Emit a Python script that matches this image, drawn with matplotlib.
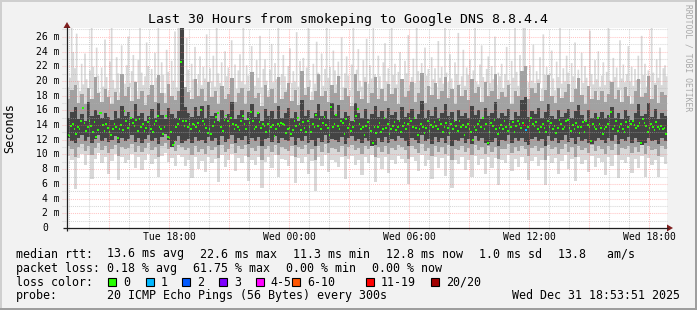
import numpy as np
import matplotlib
matplotlib.use("Agg")
import matplotlib.pyplot as plt
from matplotlib.patches import Rectangle, Polygon

plt.rcParams['font.family'] = ['DejaVu Sans Mono', 'DejaVu Sans']

W, H = 697, 310

# time window: Tue 12:53:51 -> Wed 18:53:51, hours counted from Tue 00:00
t_start = 12 + 53 / 60 + 51 / 3600
span_h = 30

# median rtt in ms, one value per 5 min step
median_ms = [
    12.6, 12.5, 13.9, 14.2, 13.5, 12.8, 13.7, 13.4, 14.6, 16.3, 14.3, 13.2, 13.8, 14.5, 13.9, 13.1, 14.4, 12.4, 13.3, 15.6,
    15.6, 14.0, 13.2, 14.1, 13.6, 13.0, 12.7, 13.5, 14.1, 13.8, 12.2, 13.4, 14.0, 13.3, 15.9, 14.6, 13.6, 14.2, 15.0, 14.3,
    13.9, 14.7, 13.2, 14.8, 13.7, 14.1, 13.2, 13.6, 14.4, 14.9, 13.5, 13.0, 14.2, 14.6, 15.2, 13.8, 13.4, 12.8, 13.7, 15.2,
    12.4, 12.2, 13.0, 11.3, 11.6, 13.8, 14.1, 14.8, 22.6, 14.6, 13.9, 14.5, 13.8, 14.2, 13.5, 14.1, 14.0, 13.7, 14.3, 13.2,
    16.1, 14.6, 14.1, 13.6, 12.9, 13.4, 12.8, 13.9, 14.4, 15.1, 15.6, 14.6, 13.7, 13.2, 14.7, 15.3, 14.5, 13.9, 15.0, 14.2,
    13.5, 14.0, 13.7, 13.3, 14.5, 15.2, 14.1, 13.4, 14.8, 14.3, 15.8, 14.6, 13.5, 13.8, 15.7, 14.4, 13.6, 14.2, 13.9, 13.1,
    14.2, 13.2, 13.7, 14.0, 12.5, 13.4, 14.1, 13.9, 14.3, 14.2, 14.0, 12.9, 13.5, 13.6, 12.8, 13.3, 14.6, 13.9, 15.0, 14.2,
    13.3, 14.4, 13.6, 13.1, 14.5, 13.8, 13.0, 14.2, 13.7, 15.4, 13.9, 14.8, 13.4, 14.3, 15.1, 14.0, 13.6, 12.7, 16.5, 13.8,
    14.1, 15.4, 13.9, 13.5, 14.6, 14.3, 12.8, 14.8, 13.6, 14.1, 13.2, 13.7, 14.6, 15.2, 16.2, 14.1, 13.5, 13.8, 12.6, 13.9,
    14.4, 13.6, 13.2, 11.5, 13.8, 12.9, 13.7, 14.3, 13.0, 13.5, 14.9, 13.6, 14.1, 12.8, 13.5, 13.9, 14.4, 13.3, 13.8, 14.6,
    13.1, 13.9, 14.3, 13.5, 14.2, 15.0, 14.6, 13.7, 15.0, 13.6, 12.7, 13.4, 14.1, 13.8, 12.9, 13.6, 14.5, 13.2, 14.0, 13.7,
    14.4, 13.9, 13.5, 14.7, 14.2, 13.1, 13.8, 14.3, 13.6, 12.9, 14.1, 13.4, 14.6, 13.9, 13.2, 14.5, 13.7, 14.0, 12.6, 13.8,
    14.2, 13.5, 13.0, 12.0, 13.7, 13.3, 14.1, 14.6, 13.8, 14.9, 13.4, 14.2, 11.6, 13.1, 14.3, 13.9, 14.7, 13.5, 12.8, 13.6,
    14.0, 13.4, 14.5, 13.7, 13.2, 14.1, 13.8, 14.4, 13.1, 13.9, 14.6, 14.2, 13.6, 14.3, 14.0, 13.3, 13.7, 14.6, 14.9, 14.2,
    13.9, 14.4, 13.5, 13.1, 13.8, 14.2, 13.6, 13.0, 14.5, 13.7, 14.3, 13.4, 13.9, 12.9, 13.6, 14.7, 14.1, 13.4, 13.8, 14.5,
    14.7, 13.6, 13.2, 14.0, 13.5, 14.3, 13.7, 12.9, 13.8, 14.4, 13.1, 14.6, 14.0, 13.7, 11.8, 14.2, 13.8, 13.5, 14.9, 14.1,
    13.6, 12.8, 13.4, 13.7, 14.1, 15.2, 15.8, 13.5, 13.9, 14.5, 13.2, 13.8, 14.1, 13.4, 13.0, 14.4, 13.7, 14.6, 14.2, 14.5,
    14.0, 13.6, 13.9, 14.3, 11.6, 14.8, 14.3, 13.9, 13.1, 13.6, 14.2, 13.7, 13.3, 14.4, 13.8, 13.5, 13.9, 13.4, 13.6, 12.8,
]

# samples that lost pings (index into median_ms, lost pings out of 20)
loss_idx = [274, 275]
loss_cnt = [12, 1]

# slowest ping per 5 min step (top of the light smoke)
outer_hi = [
    19.2, 20.5, 27.5, 24.0, 21.8, 26.5, 20.1, 18.7, 22.4, 19.6, 23.8, 20.3, 18.9, 21.5, 27.5, 22.0, 19.4, 24.6, 20.8, 18.6,
    21.9, 19.3, 25.7, 20.6, 18.8, 22.7, 27.5, 20.2, 19.0, 23.3, 21.1, 18.5, 24.9, 20.4, 19.7, 22.2, 26.1, 19.8, 21.4, 23.6,
    20.0, 18.7, 22.9, 27.5, 21.2, 19.5, 20.7, 25.3, 22.1, 19.1, 21.7, 18.9, 23.9, 20.5, 27.5, 19.9, 22.6, 20.9, 18.4, 24.3,
    21.3, 19.6, 22.8, 20.1, 26.8, 19.2, 27.5, 27.5, 27.5, 20.6, 19.0, 25.9, 21.6, 18.8, 22.4, 20.3, 24.7, 19.7, 21.0, 23.4,
    19.5, 22.0, 20.4, 26.4, 18.9, 21.8, 20.0, 23.5, 19.3, 27.5, 21.1, 19.8, 22.6, 18.6, 24.1, 20.7, 21.9, 19.1, 25.6, 20.2,
    22.3, 19.0, 21.5, 23.7, 20.0, 27.5, 19.6, 22.2, 20.8, 18.7, 24.8, 21.3, 19.4, 22.9, 20.5, 26.2, 19.2, 21.7, 23.0, 20.1,
    18.8, 21.6, 25.1, 19.9, 22.5, 20.3, 27.5, 19.5, 21.0, 23.6, 20.7, 18.9, 22.1, 24.5, 19.8, 21.4, 20.0, 26.7, 19.3, 22.8,
    20.6, 23.2, 19.1, 21.9, 27.5, 20.2, 18.6, 22.4, 19.7, 25.4, 21.2, 20.0, 23.8, 19.4, 21.7, 27.5, 20.5, 22.0, 19.0, 24.2,
    21.5, 19.6, 22.7, 20.3, 26.0, 19.2, 21.1, 23.4, 20.8, 18.8, 22.3, 27.5, 19.9, 21.6, 24.4, 20.1, 19.3, 22.9, 20.6, 25.8,
    19.7, 22.2, 20.4, 27.5, 21.0, 19.1, 23.5, 20.7, 18.9, 22.6, 25.2, 20.0, 21.8, 19.4, 27.5, 20.9, 22.4, 19.6, 21.3, 24.0,
    20.2, 18.7, 22.8, 21.1, 26.3, 19.5, 20.6, 23.1, 19.8, 27.5, 21.4, 20.1, 22.5, 19.2, 24.6, 20.8, 21.7, 19.0, 23.3, 20.3,
    21.8, 19.3, 25.5, 20.5, 22.0, 19.7, 27.5, 21.2, 19.9, 23.7, 20.4, 18.8, 22.6, 21.0, 26.6, 19.6, 20.7, 24.3, 19.4, 21.9,
    20.9, 23.0, 19.2, 21.5, 27.5, 20.0, 19.6, 22.3, 24.9, 20.6, 18.9, 21.7, 23.4, 19.8, 22.1, 20.3, 26.1, 19.5, 21.2, 20.7,
    22.4, 19.1, 21.0, 24.7, 20.2, 19.7, 22.8, 20.5, 27.5, 21.3, 19.4, 23.6, 20.8, 27.5, 27.5, 21.6, 19.9, 22.2, 20.1, 25.0,
    19.8, 21.4, 20.3, 23.3, 19.0, 26.4, 20.9, 22.0, 19.5, 21.1, 24.2, 20.4, 18.8, 22.7, 20.6, 27.5, 19.7, 21.8, 20.0, 23.5,
    21.2, 19.4, 22.5, 20.7, 25.3, 19.1, 21.6, 20.2, 23.9, 19.8, 22.1, 20.5, 18.9, 26.9, 21.0, 19.6, 22.9, 20.3, 24.1, 19.3,
    20.8, 22.6, 19.5, 21.3, 27.5, 20.1, 19.7, 23.2, 20.6, 21.9, 19.2, 25.6, 20.4, 22.3, 19.9, 21.0, 24.8, 20.0, 22.0, 19.4,
    21.7, 20.2, 23.5, 19.6, 26.2, 20.9, 22.4, 19.3, 21.5, 20.0, 27.5, 21.2, 19.8, 23.0, 20.5, 24.6, 19.5, 21.8, 22.2, 20.7,
]

# remaining smoke bands, one value per 10 min step (ms)
outer_lo = [
    9.8, 9.2, 5.3, 9.5, 10.1, 8.6, 9.9, 6.6, 9.4, 10.2, 8.8, 9.6, 7.4, 9.1, 10.0, 6.5, 9.7, 8.9, 9.3, 10.1,
    8.2, 9.6, 7.9, 9.2, 10.0, 8.7, 9.4, 6.9, 9.8, 10.2, 9.0, 9.5, 8.4, 9.9, 9.7, 8.5, 9.3, 6.8, 9.6, 8.0,
    9.1, 7.6, 9.7, 8.8, 9.4, 6.2, 9.9, 8.3, 9.2, 10.0, 7.7, 9.5, 8.9, 9.8, 6.4, 9.3, 8.6, 9.7, 5.4, 9.0,
    9.6, 8.1, 9.9, 7.0, 9.4, 9.2, 8.5, 9.8, 6.1, 9.5, 8.8, 9.7, 7.3, 9.1, 5.1, 9.6, 8.4, 9.9, 7.6, 9.3,
    9.0, 8.3, 9.7, 6.7, 9.4, 9.8, 8.6, 9.2, 7.2, 9.6, 8.9, 9.9, 6.3, 9.5, 8.0, 9.7, 7.5, 9.3, 8.7, 9.8,
    9.4, 8.8, 6.0, 9.6, 9.1, 7.8, 9.9, 8.5, 9.3, 6.6, 9.7, 8.2, 9.5, 7.1, 9.8, 5.4, 9.2, 8.7, 9.6, 7.9,
    9.3, 6.9, 9.8, 8.6, 9.4, 7.4, 9.7, 8.1, 9.5, 5.8, 9.2, 8.9, 9.9, 7.7, 9.4, 8.3, 9.6, 8.8, 6.5, 9.1,
    9.7, 8.4, 9.3, 5.9, 9.8, 8.8, 9.5, 7.3, 9.1, 9.9, 8.0, 9.4, 6.4, 9.7, 8.7, 9.2, 7.6, 9.8, 8.3, 9.5,
    9.0, 7.2, 9.6, 8.5, 9.9, 6.8, 9.3, 8.9, 9.7, 7.5, 9.4, 8.1, 9.8, 7.0, 9.5, 8.6, 9.2, 6.9, 9.6, 8.7,
]
mid_hi = [
    17.5, 18.8, 19.5, 17.0, 18.2, 16.8, 19.0, 17.6, 20.5, 18.4, 17.2, 18.9, 17.8, 16.9, 18.5, 17.4, 21.0, 18.0, 19.2, 17.3,
    19.8, 17.5, 18.6, 16.7, 18.1, 19.4, 17.2, 20.8, 18.3, 17.0, 19.6, 17.9, 17.4, 18.7, 27.5, 19.2, 18.5, 17.6, 20.2, 18.0,
    18.9, 17.3, 19.8, 17.8, 18.6, 16.9, 19.3, 17.5, 18.2, 20.4, 17.1, 18.4, 19.0, 16.8, 18.7, 21.2, 17.7, 18.3, 16.6, 19.5,
    17.8, 18.9, 17.0, 20.6, 17.6, 18.5, 19.7, 17.3, 18.8, 16.7, 21.4, 18.1, 19.2, 17.4, 18.6, 20.9, 17.9, 18.7, 17.2, 19.4,
    18.3, 20.7, 17.4, 19.1, 18.0, 16.6, 21.0, 18.6, 17.5, 19.8, 17.0, 18.4, 20.5, 17.6, 18.9, 17.3, 19.6, 18.2, 19.0, 16.9,
    20.3, 17.8, 18.7, 19.9, 17.2, 18.4, 21.1, 17.0, 19.3, 18.1, 19.7, 17.5, 18.6, 20.6, 17.7, 18.9, 16.8, 19.4, 18.0, 18.8,
    17.4, 20.2, 18.3, 19.2, 17.1, 19.8, 17.9, 18.6, 20.9, 17.5, 18.5, 17.8, 19.5, 16.9, 18.7, 18.0, 21.3, 22.0, 17.6, 19.0,
    18.4, 19.7, 17.3, 18.8, 20.8, 17.9, 17.0, 19.1, 17.7, 18.5, 19.6, 17.2, 18.9, 20.4, 18.1, 16.8, 19.3, 17.6, 18.6, 17.4,
    18.7, 17.1, 18.2, 19.8, 17.6, 18.8, 17.2, 19.2, 18.0, 16.9, 18.6, 20.3, 17.8, 18.4, 20.7, 17.5, 19.5, 17.0, 18.5, 18.1,
]
mid_lo = [
    11.2, 10.8, 9.6, 11.0, 11.4, 10.5, 11.1, 9.9, 10.9, 11.5, 10.6, 11.2, 10.2, 10.8, 11.3, 9.8, 11.0, 10.7, 10.9, 11.4,
    10.4, 11.1, 10.3, 10.9, 11.5, 10.6, 11.0, 9.7, 11.2, 11.6, 10.8, 11.1, 10.5, 11.3, 11.0, 10.6, 10.9, 9.9, 11.2, 10.4,
    10.7, 10.1, 11.2, 10.6, 11.0, 9.5, 11.3, 10.4, 10.8, 11.4, 10.2, 11.1, 10.7, 11.3, 9.7, 10.9, 10.5, 11.2, 9.3, 10.8,
    11.1, 10.4, 11.3, 9.9, 11.0, 10.8, 10.5, 11.2, 9.6, 11.0, 10.7, 11.3, 10.1, 10.8, 9.2, 11.1, 10.4, 11.4, 10.2, 10.9,
    10.8, 10.4, 11.2, 9.8, 11.0, 11.3, 10.6, 10.9, 10.0, 11.1, 10.7, 11.4, 9.6, 11.0, 10.3, 11.2, 10.1, 10.9, 10.6, 11.3,
    11.0, 10.6, 9.4, 11.1, 10.8, 10.2, 11.4, 10.5, 10.9, 9.8, 11.2, 10.4, 11.0, 10.0, 11.3, 9.3, 10.8, 10.6, 11.1, 10.3,
    10.9, 9.9, 11.3, 10.6, 11.0, 10.1, 11.2, 10.4, 11.0, 9.4, 10.8, 10.7, 11.4, 10.2, 11.0, 10.5, 11.1, 10.7, 9.8, 10.9,
    11.2, 10.5, 10.9, 9.3, 11.3, 10.7, 11.0, 10.1, 10.8, 11.4, 10.3, 11.0, 9.7, 11.2, 10.6, 10.9, 10.2, 11.3, 10.5, 11.1,
    10.8, 10.0, 11.1, 10.6, 11.4, 9.9, 10.9, 10.7, 11.2, 10.2, 11.0, 10.4, 11.3, 10.1, 11.1, 10.6, 10.8, 9.8, 11.1, 10.7,
]
inner_hi = [
    15.0, 15.8, 16.4, 14.8, 15.5, 14.6, 17.2, 15.2, 16.0, 15.4, 14.9, 15.7, 15.1, 14.7, 15.9, 15.0, 16.6, 15.3, 15.8, 14.9,
    16.8, 15.2, 15.6, 14.5, 15.3, 16.2, 14.9, 17.0, 15.4, 14.8, 16.3, 15.5, 15.0, 15.9, 27.5, 16.4, 15.7, 15.1, 16.5, 15.3,
    16.6, 14.9, 16.7, 15.2, 15.6, 14.6, 16.1, 15.0, 15.5, 17.1, 14.8, 15.4, 16.0, 14.7, 15.8, 16.9, 15.1, 15.6, 14.5, 16.2,
    15.2, 15.9, 14.8, 16.6, 15.0, 15.7, 16.3, 14.9, 15.8, 14.6, 17.4, 15.3, 16.1, 15.0, 15.6, 16.8, 15.2, 15.9, 14.8, 17.0,
    15.4, 16.7, 14.9, 15.8, 15.2, 14.5, 17.0, 15.6, 15.0, 16.2, 14.8, 15.5, 16.6, 15.1, 15.9, 14.9, 16.3, 15.4, 15.8, 14.7,
    16.5, 15.1, 15.7, 16.2, 14.8, 15.5, 17.3, 14.9, 16.0, 15.3, 16.4, 15.0, 15.6, 16.9, 15.2, 15.8, 14.6, 16.1, 15.3, 15.7,
    15.0, 16.6, 15.4, 16.0, 14.8, 16.3, 15.2, 15.7, 17.1, 15.0, 15.6, 15.2, 16.2, 14.7, 15.8, 15.3, 17.4, 17.8, 15.1, 15.9,
    15.5, 16.3, 14.9, 15.8, 16.9, 15.3, 14.8, 16.0, 15.1, 15.6, 16.2, 14.9, 15.9, 16.7, 15.4, 14.6, 16.1, 15.0, 15.7, 15.1,
    15.8, 14.9, 15.4, 16.4, 15.0, 15.7, 14.8, 16.1, 15.3, 14.7, 15.6, 16.9, 15.2, 15.5, 17.0, 15.1, 16.2, 14.8, 15.6, 15.3,
]
inner_lo = [
    12.3, 11.9, 11.5, 12.2, 12.6, 11.8, 12.4, 11.6, 12.1, 12.7, 11.9, 12.3, 11.7, 12.0, 12.5, 11.6, 12.2, 11.8, 12.1, 12.6,
    11.7, 12.3, 11.6, 12.1, 12.7, 11.9, 12.2, 11.4, 12.4, 12.8, 12.0, 11.0, 11.8, 12.5, 11.5, 11.9, 12.1, 11.5, 12.4, 11.8,
    12.0, 11.5, 12.4, 11.9, 12.2, 11.3, 12.5, 11.7, 12.1, 12.6, 11.6, 12.3, 12.0, 12.5, 11.4, 12.2, 11.8, 12.4, 11.2, 12.1,
    12.3, 11.7, 12.5, 11.5, 12.2, 12.0, 11.8, 12.4, 11.3, 12.2, 11.9, 12.5, 11.6, 12.0, 11.1, 12.3, 11.7, 12.6, 11.6, 12.1,
    12.0, 11.7, 12.4, 11.4, 12.2, 12.5, 11.8, 12.1, 11.5, 12.3, 11.9, 11.2, 11.3, 12.2, 11.7, 12.4, 11.6, 12.1, 11.9, 12.5,
    12.2, 11.8, 11.2, 12.3, 12.0, 11.6, 12.6, 11.8, 12.1, 11.4, 12.4, 11.7, 12.2, 11.5, 12.5, 11.1, 12.0, 11.8, 12.3, 11.6,
    12.1, 11.4, 12.5, 11.9, 12.2, 11.6, 11.3, 11.7, 12.2, 11.2, 12.0, 11.9, 12.6, 11.6, 12.2, 11.8, 12.3, 11.7, 11.3, 12.1,
    12.4, 11.8, 12.1, 11.2, 12.5, 11.9, 12.2, 11.6, 12.0, 12.6, 11.7, 12.2, 11.4, 12.4, 11.9, 12.1, 11.6, 11.4, 11.8, 12.3,
    12.0, 11.5, 12.3, 11.9, 12.6, 11.4, 12.1, 11.9, 12.4, 11.6, 12.2, 11.7, 11.3, 11.5, 12.3, 11.8, 12.0, 11.4, 12.3, 11.9,
]

# legend
loss_labels = ["0", "1", "2", "3", "4-5", "6-10", "11-19", "20/20"]
loss_colors = ["#26ff00", "#00b8ff", "#0059ff", "#7e00ff", "#ff00ff", "#ff5500", "#ff0000", "#a10000"]
loss_limits = [0, 1, 2, 3, 5, 10, 19, 20]

x_tick_hours = [18, 24, 30, 36, 42]
x_tick_labels = ["Tue 18:00", "Wed 00:00", "Wed 06:00", "Wed 12:00", "Wed 18:00"]
y_ticks = list(range(0, 27, 2))

step_med = 5 / 60
step_band = 10 / 60


def loss_color(n):
    for lim, c in zip(loss_limits, loss_colors):
        if n <= lim:
            return c
    return loss_colors[-1]


def step_fill(ax, t, step, lo, hi, col):
    xs = np.append(t, t[-1] + step)
    lo = np.append(lo, lo[-1])
    hi = np.append(hi, hi[-1])
    ax.fill_between(xs, lo, hi, step="post", color=col, lw=0, zorder=2)


fig = plt.figure(figsize=(W / 100, H / 100), dpi=100, facecolor="#f2f2f2")
ax = fig.add_axes([67 / W, 82 / H, 600 / W, 200 / H])
ax.set_facecolor("white")
ax.set_xlim(t_start, t_start + span_h)
ax.set_ylim(0, 27.2)
for s in ax.spines.values():
    s.set_visible(False)
ax.set_xticks([])
ax.set_yticks([])

# smoke
tm = t_start + np.arange(len(median_ms)) * step_med
tb = t_start + np.arange(len(outer_lo)) * step_band
step_fill(ax, tm, step_med, np.repeat(mid_hi, 2), outer_hi, "#d8d8d8")
step_fill(ax, tb, step_band, outer_lo, mid_lo, "#d8d8d8")
step_fill(ax, tb, step_band, mid_lo, mid_hi, "#a2a2a2")
step_fill(ax, tb, step_band, inner_lo, inner_hi, "#444444")

# median markers coloured by loss
lost = np.zeros(len(median_ms), dtype=int)
lost[loss_idx] = loss_cnt
med = np.array(median_ms)
ax.bar(tm, 0.27, bottom=med - 0.135, width=step_med, align="edge",
       color=[loss_color(n) for n in lost], lw=0, zorder=3)

# grid (drawn over the smoke, like rrdtool)
dash = (0, (1, 1))
for h in range(int(np.ceil(t_start)), int(t_start + span_h) + 1):
    major = h % 3 == 0
    ax.axvline(h, ymin=-0.012, ymax=1, color="#ff7070" if major else "#b0b0b0",
               alpha=0.45 if major else 0.55, lw=0.75, ls=dash, zorder=4, clip_on=False)
for v in range(1, 28):
    major = v % 2 == 0
    ax.axhline(v, xmin=-0.008, xmax=1, color="#ff7070" if major else "#b0b0b0",
               alpha=0.4 if major else 0.5, lw=0.75, ls=dash, zorder=4, clip_on=False)

# tick labels
for h, lab in zip(x_tick_hours, x_tick_labels):
    ax.text(h, -0.044, lab, transform=ax.get_xaxis_transform(), ha="center", va="center",
            fontsize=7, color="#000000")
for v in y_ticks:
    if v == 0:
        ax.text(-0.031, v, "0", transform=ax.get_yaxis_transform(), ha="right", va="center",
                fontsize=7)
    else:
        ax.text(-0.0125, v, f"{v} m", transform=ax.get_yaxis_transform(), ha="right",
                va="center", fontsize=7)

# overlay in pixel coordinates for frame, axes arrows and legend
ov = fig.add_axes([0, 0, 1, 1])
ov.set_xlim(0, W)
ov.set_ylim(H, 0)
ov.axis("off")
ov.patch.set_alpha(0)

ov.add_patch(Rectangle((0, 0), W, 2, color="#cfcfcf", lw=0))
ov.add_patch(Rectangle((0, 0), 2, H, color="#cfcfcf", lw=0))
ov.add_patch(Rectangle((0, H - 2), W, 2, color="#9e9e9e", lw=0))
ov.add_patch(Rectangle((W - 2, 0), 2, H, color="#9e9e9e", lw=0))

ov.plot([63, 668], [228, 228], color="#1f1f1f", lw=0.9, solid_capstyle="butt")
ov.plot([67, 67], [231, 27], color="#1f1f1f", lw=0.9, solid_capstyle="butt")
ov.add_patch(Polygon([(667, 224.5), (673, 228), (667, 231.5)], closed=True, color="#7f1f1f", lw=0))
ov.add_patch(Polygon([(63.5, 28), (67, 22), (70.5, 28)], closed=True, color="#7f1f1f", lw=0))

ov.text(348.5, 19, "Last 30 Hours from smokeping to Google DNS 8.8.4.4", ha="center",
        va="center", fontsize=9.5)
ov.text(10, 128, "Seconds", rotation=90, ha="center", va="center", fontsize=8.5)
ov.text(688, 58, "RRDTOOL / TOBI OETIKER", rotation=270, ha="center", va="center",
        fontsize=5.8, color="#a8a8a8")

fs = 8.4
line1 = [(16, "median rtt:"), (107, "13.6 ms avg"), (200, "22.6 ms max"), (293, "11.3 ms min"),
         (386, "12.8 ms now"), (479, "1.0 ms sd"), (558, "13.8   am/s")]
line2 = [(16, "packet loss:"), (107, "0.18 % avg"), (193, "61.75 % max"), (285.5, "0.00 % min"),
         (371.5, "0.00 % now")]
for x, s in line1:
    ov.text(x, 254, s, ha="left", va="center", fontsize=fs)
for x, s in line2:
    ov.text(x, 268.3, s, ha="left", va="center", fontsize=fs)

ov.text(16, 282.3, "loss color:", ha="left", va="center", fontsize=fs)
box_x = [108, 145.7, 182.3, 219, 255.7, 292.3, 365.7, 431]
for bx, lab, col in zip(box_x, loss_labels, loss_colors):
    ov.add_patch(Rectangle((bx, 278.3), 8, 8, facecolor=col, edgecolor="black", lw=0.8))
    ov.text(bx + 15, 282.3, lab, ha="left", va="center", fontsize=fs)

ov.text(16, 295.7, "probe:", ha="left", va="center", fontsize=fs)
ov.text(107, 295.7, "20 ICMP Echo Pings (56 Bytes) every 300s", ha="left", va="center", fontsize=fs)
ov.text(680, 295.7, "Wed Dec 31 18:53:51 2025", ha="right", va="center", fontsize=fs)

fig.savefig("out.png", dpi=100, facecolor=fig.get_facecolor())
